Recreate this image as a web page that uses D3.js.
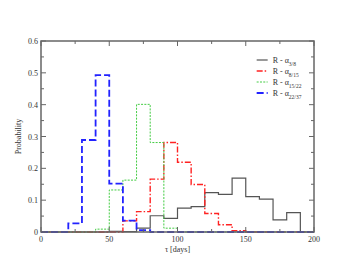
<!DOCTYPE html>
<html>
<head>
<meta charset="utf-8">
<script src="https://cdn.jsdelivr.net/npm/d3@7"></script>
<style>
  body { margin: 0; background: #fff; }
  text { font-family: "Liberation Serif", "DejaVu Serif", serif; fill: #333; }
</style>
</head>
<body>
<div id="chart"></div>
<script>
// bin edges (days), width 10
const binStarts = d3.range(0, 200, 10);
const lastEdge = 200;

const black38 = [0, 0, 0, 0, 0, 0.002, 0.001, 0.012, 0.051, 0.043, 0.075, 0.080, 0.124, 0.118, 0.169, 0.111, 0.103, 0.038, 0.061, 0];
const red815 = [0, 0, 0, 0, 0, 0, 0.035, 0.064, 0.166, 0.281, 0.219, 0.149, 0.058, 0.023, 0.004, 0, 0, 0, 0, 0];
const green1522 = [0, 0, 0, 0, 0.009, 0.132, 0.163, 0.401, 0.281, 0.012, 0, 0, 0, 0, 0, 0, 0, 0, 0, 0];
const blue2237 = [0, 0, 0.027, 0.289, 0.493, 0.152, 0.036, 0.006, 0, 0, 0, 0, 0, 0, 0, 0, 0, 0, 0, 0];

const seriesNames = ["3/8", "8/15", "15/22", "22/37"];

const xMajor = [0, 50, 100, 150, 200];
const xMinor = [25, 75, 125, 175];
const yMajor = [0, 0.1, 0.2, 0.3, 0.4, 0.5, 0.6];
const yMinor = [0.05, 0.15, 0.25, 0.35, 0.45, 0.55];

const W = 354, H = 273;
const margin = { top: 41, right: 40, bottom: 41, left: 41 };
const width = W - margin.left - margin.right;
const height = H - margin.top - margin.bottom;

const svg = d3.select("#chart").append("svg")
  .attr("width", W)
  .attr("height", H);

const g = svg.append("g")
  .attr("transform", "translate(" + margin.left + "," + margin.top + ")");

const x = d3.scaleLinear().domain([0, 200]).range([0, width]);
const y = d3.scaleLinear().domain([0, 0.6]).range([height, 0]);

// step line through histogram bins
const line = d3.line()
  .x(d => x(d[0]))
  .y(d => y(d[1]))
  .curve(d3.curveStepAfter);

function toPoints(values) {
  const pts = binStarts.map((b, i) => [b, values[i]]);
  pts.push([lastEdge, values[values.length - 1]]);
  return pts;
}

const series = [
  { name: seriesNames[0], values: black38, color: "#555555", dash: null, w: 1.2 },
  { name: seriesNames[1], values: red815, color: "#ff2222", dash: "6,2,1.5,2", w: 1.4 },
  { name: seriesNames[2], values: green1522, color: "#44cc44", dash: "2,1.3", w: 1 },
  { name: seriesNames[3], values: blue2237, color: "#2222ff", dash: "7,3", w: 1.8 }
];

g.selectAll(".hist")
  .data(series)
  .enter()
  .append("path")
  .attr("class", "hist")
  .attr("d", d => line(toPoints(d.values)))
  .style("fill", "none")
  .style("stroke", d => d.color)
  .style("stroke-width", d => d.w)
  .style("stroke-dasharray", d => d.dash);

// frame
g.append("rect")
  .attr("width", width)
  .attr("height", height)
  .style("fill", "none")
  .style("stroke", "#666")
  .style("stroke-width", 1.5);

// inward ticks on all four sides
const tickColor = "#666";
function addTicks(values, len, horizontal) {
  values.forEach(v => {
    if (horizontal) {
      g.append("line").attr("x1", x(v)).attr("x2", x(v)).attr("y1", height).attr("y2", height - len)
        .style("stroke", tickColor);
      g.append("line").attr("x1", x(v)).attr("x2", x(v)).attr("y1", 0).attr("y2", len)
        .style("stroke", tickColor);
    } else {
      g.append("line").attr("y1", y(v)).attr("y2", y(v)).attr("x1", 0).attr("x2", len)
        .style("stroke", tickColor);
      g.append("line").attr("y1", y(v)).attr("y2", y(v)).attr("x1", width).attr("x2", width - len)
        .style("stroke", tickColor);
    }
  });
}
addTicks(xMajor, 5, true);
addTicks(xMinor, 3, true);
addTicks(yMajor, 5, false);
addTicks(yMinor, 3, false);

// tick labels
g.selectAll(".xlab")
  .data(xMajor)
  .enter()
  .append("text")
  .attr("x", d => x(d))
  .attr("y", height + 10)
  .attr("text-anchor", "middle")
  .style("font-size", "8px")
  .text(d => d);

g.selectAll(".ylab")
  .data(yMajor)
  .enter()
  .append("text")
  .attr("x", -3)
  .attr("y", d => y(d) + 3)
  .attr("text-anchor", "end")
  .style("font-size", "8px")
  .text(d => d === 0 ? "0" : d3.format(".1f")(d));

// axis titles
g.append("text")
  .attr("x", width / 2)
  .attr("y", height + 20)
  .attr("text-anchor", "middle")
  .style("font-size", "8px")
  .text("τ [days]");

g.append("text")
  .attr("transform", "translate(" + (-20) + "," + (height / 2) + ") rotate(-90)")
  .attr("text-anchor", "middle")
  .style("font-size", "8px")
  .text("Probability");

// legend
const legend = g.append("g").attr("transform", "translate(" + (x(158)) + "," + 19 + ")");
series.forEach((s, i) => {
  const row = legend.append("g").attr("transform", "translate(0," + (i * 11) + ")");
  row.append("line")
    .attr("x1", 0).attr("x2", 11)
    .attr("y1", 0).attr("y2", 0)
    .style("stroke", s.color)
    .style("stroke-width", s.w)
    .style("stroke-dasharray", s.dash);
  const t = row.append("text")
    .attr("x", 16)
    .attr("y", 3)
    .style("font-size", "8px");
  t.append("tspan").text("R - α");
  t.append("tspan")
    .attr("dy", 2.5)
    .style("font-size", "5.5px")
    .text(s.name);
});
</script>
</body>
</html>
